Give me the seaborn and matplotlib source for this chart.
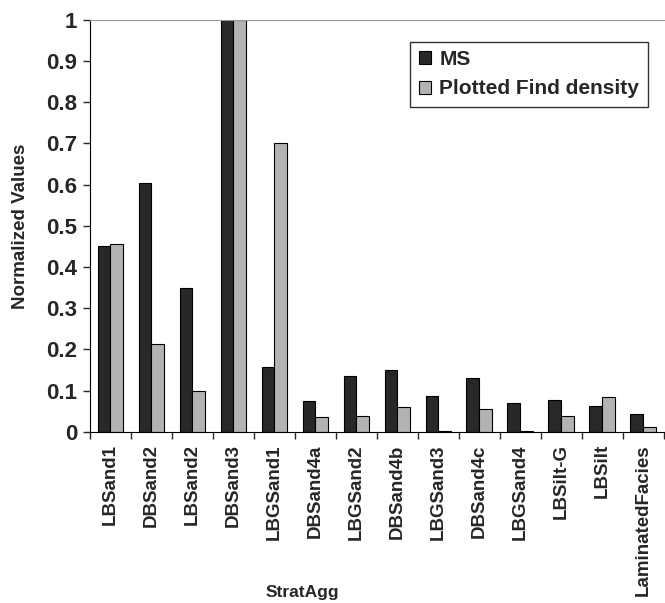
import pandas as pd
import seaborn as sns
import numpy as np
import matplotlib
matplotlib.use('Agg')
import matplotlib.pyplot as plt
from matplotlib.ticker import FixedLocator, FormatStrFormatter

# data
categories = ['LBSand1', 'DBSand2', 'LBSand2', 'DBSand3', 'LBGSand1', 'DBSand4a', 'LBGSand2',
              'DBSand4b', 'LBGSand3', 'DBSand4c', 'LBGSand4', 'LBSilt-G', 'LBSilt', 'LaminatedFacies']
ms = [0.45, 0.603, 0.348, 1.0, 0.157, 0.074, 0.136, 0.151, 0.088, 0.13, 0.07, 0.078, 0.063, 0.042]
find_density = [0.457, 0.213, 0.10, 1.0, 0.70, 0.035, 0.039, 0.06, 0.002, 0.056, 0.002, 0.039, 0.084, 0.012]
series = ['MS', 'Plotted Find density']

df = pd.DataFrame({'StratAgg': categories * 2,
                   'value': ms + find_density,
                   'series': [series[0]] * len(ms) + [series[1]] * len(find_density)})

sns.set_style('white')
plt.rcParams['font.family'] = ['Liberation Sans', 'DejaVu Sans']
plt.rcParams['font.weight'] = 'bold'

fig = plt.figure(figsize=(6.65, 6.03), dpi=100)
ax = fig.add_axes([0.135, 0.284, 0.863, 0.683])
sns.barplot(data=df, x='StratAgg', y='value', hue='series', order=categories,
            palette=['#282828', '#b3b3b3'], edgecolor='black', linewidth=0.8,
            width=0.62, gap=0, ax=ax)

ax.set_ylim(0, 1)
ax.set_xlim(-0.5, len(categories) - 0.5)
ax.set_yticks(np.arange(0, 1.01, 0.1))
ax.yaxis.set_major_formatter(FormatStrFormatter('%g'))
ax.tick_params(axis='y', labelsize=16, direction='out', length=5, width=1, left=True, pad=4)
ax.tick_params(axis='x', which='major', length=0, labelsize=13.5, pad=9, labelrotation=90)
ax.xaxis.set_minor_locator(FixedLocator(np.arange(-0.5, len(categories), 1)))
ax.tick_params(axis='x', which='minor', direction='out', length=5, width=1, bottom=True)
for lbl in ax.get_xticklabels() + ax.get_yticklabels():
    lbl.set_fontweight('bold')

ax.spines['left'].set_color('black')
ax.spines['bottom'].set_color('black')
ax.spines['top'].set_color('#999999')
ax.spines['right'].set_visible(False)

ax.set_ylabel('Normalized Values', fontsize=13.5, fontweight='bold')
ax.yaxis.set_label_coords(-0.106, 0.5)
ax.set_xlabel('StratAgg', fontsize=12.5, fontweight='bold')
ax.xaxis.set_label_coords(0.371, -0.372)

leg = ax.legend(loc='upper right', bbox_to_anchor=(0.972, 0.947), frameon=True, fancybox=False,
                edgecolor='black', prop={'size': 15, 'weight': 'bold'},
                handlelength=0.6, handleheight=0.6, handletextpad=0.4, borderpad=0.4,
                borderaxespad=0)
leg.get_frame().set_linewidth(1)

fig.savefig('out.png', dpi=100)
